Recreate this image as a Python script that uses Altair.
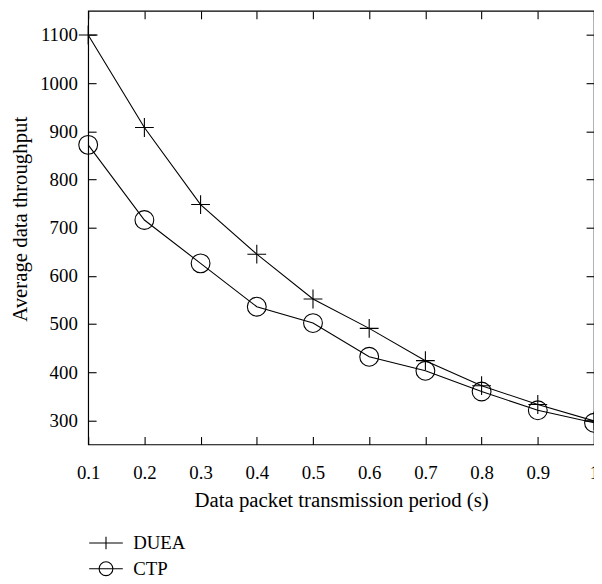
import altair as alt
import pandas as pd

periods = [0.1, 0.2, 0.3, 0.4, 0.5, 0.6, 0.7, 0.8, 0.9, 1.0]
duea = [1100, 908, 748, 645, 552, 491, 424, 372, 333, 299]
ctp = [872, 716, 626, 536, 502, 432, 403, 360, 321, 295]
series_names = ["DUEA", "CTP"]
y_ticks = [300, 400, 500, 600, 700, 800, 900, 1000, 1100]

rows = []
for p, d, c in zip(periods, duea, ctp):
    rows.append({"period": p, "value": d, "series": "DUEA"})
    rows.append({"period": p, "value": c, "series": "CTP"})
df = pd.DataFrame(rows)

FONT = "Liberation Serif"
PLUS = "M-1,0H1M0,-1V1"
LEG_PLUS = "M-2,0H2M0,-0.74V0.74"
LEG_CIRC = "M-2,0H2M-0.82,0A0.82,0.82 0 1,1 0.82,0A0.82,0.82 0 1,1 -0.82,0"

xs = alt.Scale(domain=[0.1, 1.0], nice=False, zero=False)
ys = alt.Scale(domain=[250, 1150], nice=False, zero=False)

common_axis = dict(tickSize=8, offset=-8, domain=False, grid=False,
                   tickColor="black", tickWidth=1.1, labelFlush=False,
                   labelOverlap=False)

line = alt.Chart(df).mark_line(color="black", strokeWidth=1.1).encode(
    x=alt.X("period:Q", scale=xs, axis=alt.Axis(
        orient="bottom", values=periods, format=".1~f", labelPadding=19,
        labelFont=FONT, labelFontSize=19, labelColor="black",
        title="Data packet transmission period (s)", titleFont=FONT,
        titleFontSize=21, titleFontWeight="normal", titleColor="black",
        titlePadding=8, **common_axis)),
    y=alt.Y("value:Q", scale=ys, axis=alt.Axis(
        orient="left", values=y_ticks, format="d", labelPadding=11,
        labelFont=FONT, labelFontSize=19, labelColor="black",
        title="Average data throughput", titleFont=FONT,
        titleFontSize=21, titleFontWeight="normal", titleColor="black",
        titlePadding=9, titleY=210, **common_axis)),
    detail="series:N",
)

points = alt.Chart(df).mark_point(filled=False, color="black", size=361,
                                  strokeWidth=1.1, opacity=1).encode(
    x=alt.X("period:Q", scale=xs, axis=alt.Axis(
        orient="top", values=periods, labels=False, title=None, **common_axis)),
    y=alt.Y("value:Q", scale=ys, axis=alt.Axis(
        orient="right", values=y_ticks, labels=False, title=None, **common_axis)),
    shape=alt.Shape("series:N", scale=alt.Scale(domain=series_names,
                                                range=[PLUS, "circle"]),
                    legend=None),
)

legend_layer = alt.Chart(df).mark_point(filled=False, color="black",
                                        opacity=0).encode(
    x=alt.X("period:Q", scale=xs, axis=None),
    y=alt.Y("value:Q", scale=ys, axis=None),
    shape=alt.Shape("series:N", scale=alt.Scale(domain=series_names,
                                                range=[LEG_PLUS, LEG_CIRC]),
                    legend=alt.Legend(
                        title=None, orient="none", legendX=8.5, legendY=528,
                        symbolSize=289, symbolStrokeWidth=1.1,
                        symbolStrokeColor="black",
                        symbolFillColor="transparent", symbolOpacity=1,
                        labelFont=FONT, labelFontSize=19, labelColor="black",
                        labelOffset=18, rowPadding=6)),
)

chart = alt.layer(line, points, legend_layer).resolve_scale(
    shape="independent"
).resolve_axis(
    x="independent", y="independent"
).properties(
    width=511, height=438,
    autosize=alt.AutoSizeParams(type="none"),
    padding={"left": 81, "top": 0, "right": 0, "bottom": 138},
    background="white",
).configure_view(stroke="black", strokeWidth=1.2)

chart.save("out.html", embed_options={"renderer": "svg", "actions": False})
